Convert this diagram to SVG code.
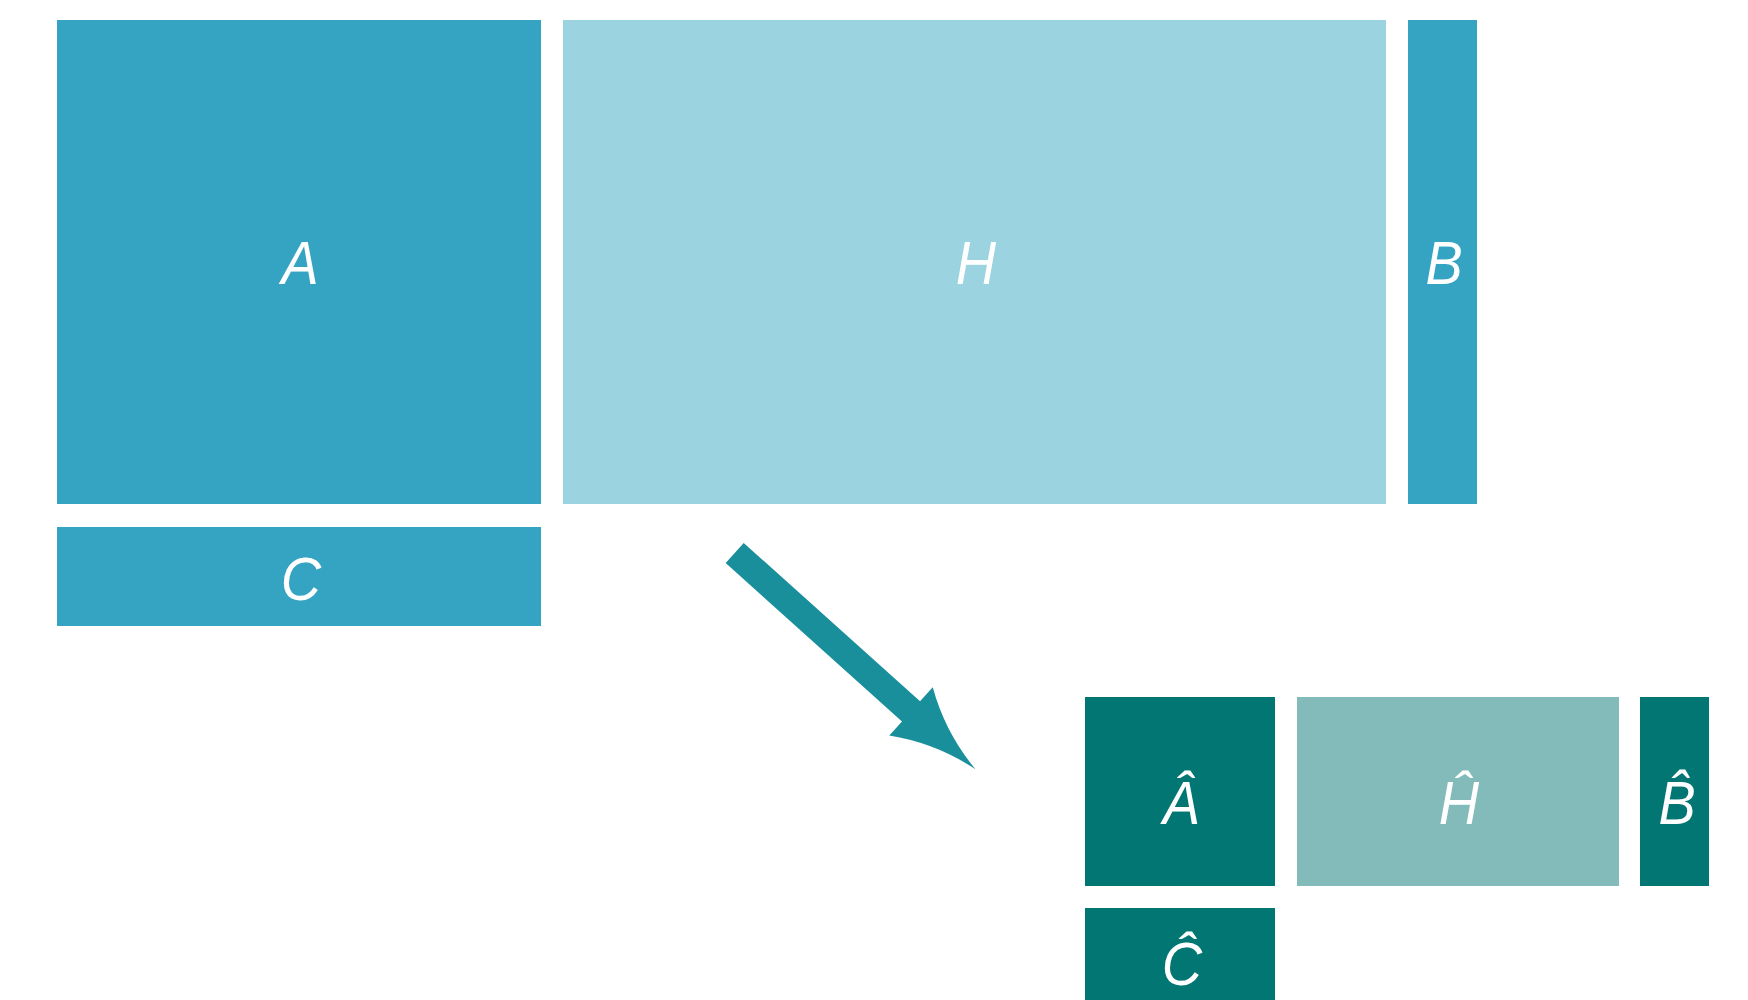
<svg xmlns="http://www.w3.org/2000/svg" width="1748" height="1000" viewBox="0 0 1748 1000">
  <style>
    .blue { fill: #35A4C2; }
    .lightblue { fill: #9BD3E1; }
    .teal { fill: #027673; }
    .lightteal { fill: #82BBB9; }
    .lbl { fill: #FFFFFF; font-family: "Liberation Sans", Arial, sans-serif; font-style: italic; font-size: 62px; text-anchor: middle; }
    .arrow { fill: #1A8F9C; }
  </style>
  <rect width="1748" height="1000" fill="#FFFFFF"/>
  <g id="node-A">
    <rect class="blue" x="57" y="20" width="484" height="484"/>
    <text class="lbl" transform="translate(300,284) scale(0.9,1)" x="0" y="0">A</text>
  </g>
  <g id="node-H">
    <rect class="lightblue" x="563" y="20" width="823" height="484"/>
    <text class="lbl" transform="translate(976,284) scale(0.9,1)" x="0" y="0">H</text>
  </g>
  <g id="node-B">
    <rect class="blue" x="1408" y="20" width="69" height="484"/>
    <text class="lbl" transform="translate(1444,284) scale(0.9,1)" x="0" y="0">B</text>
  </g>
  <g id="node-C">
    <rect class="blue" x="57" y="527" width="484" height="99"/>
    <text class="lbl" transform="translate(301,600) scale(0.9,1)" x="0" y="0">C</text>
  </g>
  <g id="node-Ahat">
    <rect class="teal" x="1085" y="697" width="190" height="189"/>
    <text class="lbl" transform="translate(1181,824) scale(0.9,1)" x="0" y="0">Â</text>
  </g>
  <g id="node-Hhat">
    <rect class="lightteal" x="1297" y="697" width="322" height="189"/>
    <text class="lbl" transform="translate(1459,824) scale(0.9,1)" x="0" y="0">Ĥ</text>
  </g>
  <g id="node-Bhat">
    <rect class="teal" x="1640" y="697" width="69" height="189"/>
    <text class="lbl" transform="translate(1677,824) scale(0.9,1)" x="0" y="0">B̂</text>
  </g>
  <g id="node-Chat">
    <rect class="teal" x="1085" y="908" width="190" height="92"/>
    <text class="lbl" transform="translate(1182,985) scale(0.9,1)" x="0" y="0">Ĉ</text>
  </g>
  <g id="connectors">
    <path class="arrow" transform="translate(734.7,553) rotate(41.93)" d="M0,-13.5 L237,-13.5 L237,-32.5 Q276.8,-6.9 323.7,0 Q276.8,6.9 237,32.5 L237,13.5 L0,13.5 Z"/>
  </g>
</svg>
